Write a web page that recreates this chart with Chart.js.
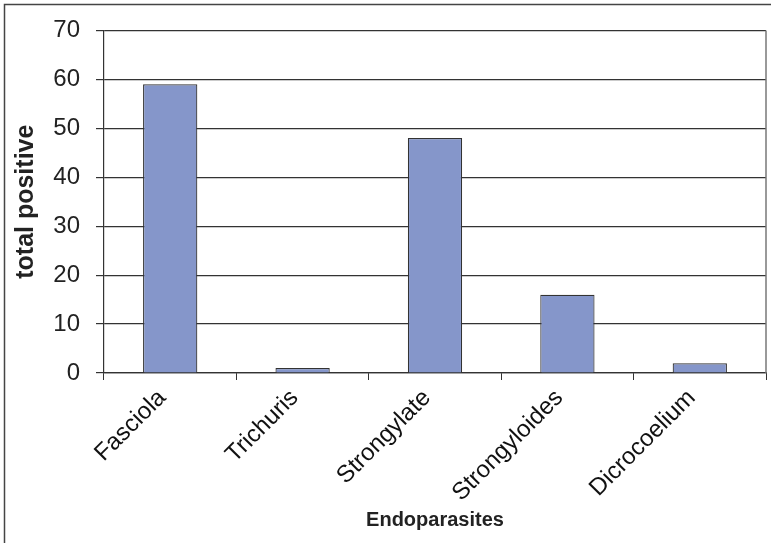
<!DOCTYPE html>
<html>
<head>
<meta charset="utf-8">
<script src="https://cdn.jsdelivr.net/npm/chart.js@4/dist/chart.umd.min.js"></script>
<style>
  html, body { margin: 0; padding: 0; background: #fff; }
  canvas { display: block; }
</style>
</head>
<body>
<canvas id="c" width="771" height="543"></canvas>
<script>
// Endoparasite counts (number of positive samples)
const categories = ['Fasciola', 'Trichuris', 'Strongylate', 'Strongyloides', 'Dicrocoelium'];
const totalPositive = [59, 1, 48, 16, 2];
const yTicks = [0, 10, 20, 30, 40, 50, 60, 70];

const FONT = "'Liberation Sans', Arial, sans-serif";

// Frame lines: outer border (left/top) and the plot's right edge
const framePlugin = {
  id: 'frame',
  beforeDraw(chart) {
    const ctx = chart.ctx;
    ctx.save();
    ctx.fillStyle = '#fff';
    ctx.fillRect(0, 0, chart.width, chart.height);
    ctx.strokeStyle = '#444';
    ctx.lineWidth = 1.5;
    ctx.beginPath();
    ctx.moveTo(4.5, chart.height);
    ctx.lineTo(4.5, 4.5);
    ctx.lineTo(chart.width, 4.5);
    ctx.stroke();
    ctx.restore();
  },
  afterDatasetsDraw(chart) {
    const { ctx, chartArea } = chart;
    ctx.save();
    ctx.strokeStyle = '#777';
    ctx.lineWidth = 1.5;
    ctx.beginPath();
    ctx.moveTo(chartArea.right, chartArea.top);
    ctx.lineTo(chartArea.right, chartArea.bottom);
    ctx.stroke();
    ctx.restore();
  }
};

new Chart(document.getElementById('c'), {
  type: 'bar',
  data: {
    labels: categories,
    datasets: [{
      label: 'total positive',
      data: totalPositive,
      backgroundColor: '#8596CA',
      borderColor: '#333',
      borderWidth: 1.2,
      categoryPercentage: 1,
      barPercentage: 0.41
    }]
  },
  options: {
    responsive: false,
    animation: false,
    layout: { padding: { top: 26, right: 5, left: 0, bottom: 0 } },
    plugins: {
      legend: { display: false },
      tooltip: { enabled: false }
    },
    scales: {
      x: {
        offset: true,
        grid: {
          offset: true,
          drawOnChartArea: false,
          drawTicks: true,
          tickLength: 7,
          color: '#333'
        },
        border: { display: true, color: '#333', width: 1.2 },
        ticks: {
          color: '#111',
          font: { family: FONT, size: 24 },
          maxRotation: 45,
          minRotation: 45,
          padding: 4,
          labelOffset: -8
        },
        title: {
          display: true,
          text: 'Endoparasites',
          color: '#222',
          font: { family: FONT, size: 20, weight: 'bold' },
          padding: { top: 0, bottom: 11 }
        },
        afterFit(scale) { scale.height = 170; }
      },
      y: {
        min: 0,
        max: 70,
        afterBuildTicks(scale) {
          scale.ticks = yTicks.map(v => ({ value: v }));
        },
        grid: {
          color: '#333',
          lineWidth: 1.2,
          tickLength: 8,
          drawTicks: true
        },
        border: { display: true, color: '#333', width: 1.2 },
        ticks: {
          color: '#222',
          font: { family: FONT, size: 24 },
          padding: 16
        },
        title: {
          display: true,
          text: 'total positive',
          color: '#222',
          font: { family: FONT, size: 25, weight: 'bold' },
          padding: { top: 11, bottom: 0 }
        },
        afterFit(scale) { scale.width = 104; }
      }
    }
  },
  plugins: [framePlugin]
});
</script>
</body>
</html>
